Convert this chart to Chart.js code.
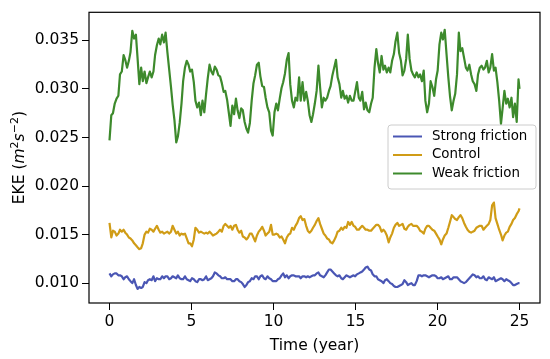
<!DOCTYPE html>
<html>
<head>
<meta charset="utf-8">
<script src="https://cdn.jsdelivr.net/npm/chart.js@4.4.0/dist/chart.umd.min.js"></script>
<style>
  html, body { margin: 0; padding: 0; background: #fff; }
  #wrap { width: 550px; height: 359px; }
</style>
</head>
<body>
<div id="wrap"><canvas id="chart" width="550" height="359"></canvas></div>
<script>
// sample times (year)
const years = [
  0.00, 0.11, 0.21, 0.32, 0.43, 0.54, 0.64, 0.75, 0.86, 0.96,
  1.07, 1.18, 1.28, 1.39, 1.50, 1.61, 1.71, 1.82, 1.93, 2.03,
  2.14, 2.25, 2.35, 2.46, 2.57, 2.68, 2.78, 2.89, 3.00, 3.10,
  3.21, 3.32, 3.42, 3.53, 3.64, 3.75, 3.85, 3.96, 4.07, 4.17,
  4.28, 4.39, 4.49, 4.60, 4.71, 4.82, 4.92, 5.03, 5.14, 5.24,
  5.35, 5.46, 5.57, 5.67, 5.78, 5.89, 5.99, 6.10, 6.21, 6.31,
  6.42, 6.53, 6.64, 6.74, 6.85, 6.96, 7.06, 7.17, 7.28, 7.38,
  7.49, 7.60, 7.71, 7.81, 7.92, 8.03, 8.13, 8.24, 8.35, 8.45,
  8.56, 8.67, 8.78, 8.88, 8.99, 9.10, 9.20, 9.31, 9.42, 9.52,
  9.63, 9.74, 9.85, 9.95, 10.06, 10.17, 10.27, 10.38, 10.49, 10.59,
  10.70, 10.81, 10.92, 11.02, 11.13, 11.24, 11.34, 11.45, 11.56, 11.66,
  11.77, 11.88, 11.99, 12.09, 12.20, 12.31, 12.41, 12.52, 12.63, 12.74,
  12.84, 12.95, 13.06, 13.16, 13.27, 13.38, 13.48, 13.59, 13.70, 13.81,
  13.91, 14.02, 14.13, 14.23, 14.34, 14.45, 14.55, 14.66, 14.77, 14.88,
  14.98, 15.09, 15.20, 15.30, 15.41, 15.52, 15.62, 15.73, 15.84, 15.95,
  16.05, 16.16, 16.27, 16.37, 16.48, 16.59, 16.70, 16.80, 16.91, 17.02,
  17.12, 17.23, 17.34, 17.44, 17.55, 17.66, 17.77, 17.87, 17.98, 18.09,
  18.19, 18.30, 18.41, 18.51, 18.62, 18.73, 18.84, 18.94, 19.05, 19.16,
  19.26, 19.37, 19.48, 19.58, 19.69, 19.80, 19.91, 20.01, 20.12, 20.23,
  20.33, 20.44, 20.55, 20.66, 20.76, 20.87, 20.98, 21.08, 21.19, 21.30,
  21.40, 21.51, 21.62, 21.73, 21.83, 21.94, 22.05, 22.15, 22.26, 22.37,
  22.47, 22.58, 22.69, 22.80, 22.90, 23.01, 23.12, 23.22, 23.33, 23.44,
  23.54, 23.65, 23.76, 23.87, 23.97, 24.08, 24.19, 24.29, 24.40, 24.51,
  24.61, 24.72, 24.83, 24.94, 25.00
];

const strongFriction = [
  0.0110, 0.0107, 0.0109, 0.0110, 0.0110, 0.0108, 0.0108, 0.0107, 0.0104, 0.0106,
  0.0107, 0.0104, 0.0102, 0.0100, 0.0104, 0.0098, 0.0094, 0.0096, 0.0095, 0.0096,
  0.0101, 0.0100, 0.0103, 0.0104, 0.0103, 0.0107, 0.0102, 0.0105, 0.0104, 0.0104,
  0.0107, 0.0105, 0.0107, 0.0107, 0.0104, 0.0105, 0.0107, 0.0106, 0.0105, 0.0108,
  0.0105, 0.0104, 0.0104, 0.0107, 0.0104, 0.0103, 0.0102, 0.0105, 0.0104, 0.0102,
  0.0101, 0.0104, 0.0104, 0.0103, 0.0104, 0.0107, 0.0103, 0.0104, 0.0105, 0.0107,
  0.0111, 0.0110, 0.0108, 0.0107, 0.0105, 0.0105, 0.0106, 0.0104, 0.0104, 0.0104,
  0.0102, 0.0102, 0.0104, 0.0104, 0.0102, 0.0101, 0.0099, 0.0096, 0.0098, 0.0101,
  0.0102, 0.0105, 0.0104, 0.0107, 0.0107, 0.0104, 0.0107, 0.0108, 0.0105, 0.0104,
  0.0107, 0.0105, 0.0104, 0.0102, 0.0102, 0.0102, 0.0104, 0.0105, 0.0108, 0.0110,
  0.0106, 0.0108, 0.0105, 0.0107, 0.0108, 0.0108, 0.0107, 0.0107, 0.0107, 0.0105,
  0.0107, 0.0107, 0.0106, 0.0107, 0.0106, 0.0107, 0.0108, 0.0108, 0.0110, 0.0111,
  0.0108, 0.0107, 0.0106, 0.0108, 0.0111, 0.0114, 0.0114, 0.0112, 0.0110, 0.0108,
  0.0107, 0.0108, 0.0105, 0.0104, 0.0106, 0.0108, 0.0107, 0.0106, 0.0107, 0.0108,
  0.0107, 0.0109, 0.0110, 0.0111, 0.0112, 0.0114, 0.0116, 0.0117, 0.0114, 0.0113,
  0.0109, 0.0107, 0.0107, 0.0104, 0.0103, 0.0102, 0.0100, 0.0103, 0.0104, 0.0102,
  0.0100, 0.0099, 0.0097, 0.0096, 0.0096, 0.0097, 0.0098, 0.0099, 0.0103, 0.0101,
  0.0098, 0.0099, 0.0100, 0.0098, 0.0098, 0.0102, 0.0108, 0.0108, 0.0107, 0.0108,
  0.0108, 0.0107, 0.0106, 0.0107, 0.0108, 0.0108, 0.0107, 0.0105, 0.0105, 0.0106,
  0.0104, 0.0105, 0.0106, 0.0107, 0.0104, 0.0104, 0.0106, 0.0106, 0.0106, 0.0104,
  0.0102, 0.0101, 0.0100, 0.0101, 0.0103, 0.0105, 0.0107, 0.0109, 0.0108, 0.0106,
  0.0107, 0.0105, 0.0105, 0.0107, 0.0104, 0.0103, 0.0106, 0.0105, 0.0104, 0.0106,
  0.0102, 0.0103, 0.0104, 0.0105, 0.0104, 0.0102, 0.0104, 0.0103, 0.0102, 0.0100,
  0.0098, 0.0098, 0.0099, 0.0100, 0.0100
];

const control = [
  0.0162, 0.0147, 0.0154, 0.0153, 0.0149, 0.0151, 0.0155, 0.0153, 0.0155, 0.0152,
  0.0150, 0.0147, 0.0146, 0.0144, 0.0141, 0.0139, 0.0137, 0.0135, 0.0136, 0.0141,
  0.0150, 0.0153, 0.0152, 0.0156, 0.0155, 0.0153, 0.0156, 0.0159, 0.0155, 0.0152,
  0.0153, 0.0151, 0.0152, 0.0153, 0.0151, 0.0153, 0.0159, 0.0155, 0.0151, 0.0153,
  0.0149, 0.0151, 0.0150, 0.0151, 0.0146, 0.0141, 0.0141, 0.0138, 0.0145, 0.0157,
  0.0155, 0.0152, 0.0153, 0.0152, 0.0151, 0.0152, 0.0151, 0.0153, 0.0151, 0.0149,
  0.0150, 0.0151, 0.0153, 0.0155, 0.0153, 0.0159, 0.0161, 0.0159, 0.0157, 0.0159,
  0.0155, 0.0159, 0.0160, 0.0155, 0.0152, 0.0154, 0.0148, 0.0147, 0.0145, 0.0147,
  0.0151, 0.0151, 0.0147, 0.0143, 0.0149, 0.0153, 0.0155, 0.0158, 0.0154, 0.0149,
  0.0151, 0.0153, 0.0160, 0.0150, 0.0150, 0.0151, 0.0150, 0.0147, 0.0148, 0.0145,
  0.0141, 0.0147, 0.0150, 0.0151, 0.0157, 0.0155, 0.0159, 0.0162, 0.0167, 0.0169,
  0.0165, 0.0166, 0.0159, 0.0154, 0.0152, 0.0154, 0.0157, 0.0160, 0.0164, 0.0167,
  0.0161, 0.0156, 0.0151, 0.0149, 0.0146, 0.0145, 0.0142, 0.0141, 0.0144, 0.0148,
  0.0153, 0.0154, 0.0157, 0.0155, 0.0158, 0.0157, 0.0163, 0.0160, 0.0163, 0.0159,
  0.0158, 0.0155, 0.0155, 0.0157, 0.0159, 0.0157, 0.0155, 0.0155, 0.0154, 0.0154,
  0.0156, 0.0158, 0.0160, 0.0160, 0.0158, 0.0153, 0.0155, 0.0153, 0.0149, 0.0142,
  0.0147, 0.0151, 0.0157, 0.0160, 0.0162, 0.0159, 0.0160, 0.0161, 0.0156, 0.0155,
  0.0158, 0.0160, 0.0161, 0.0159, 0.0159, 0.0159, 0.0157, 0.0154, 0.0153, 0.0151,
  0.0156, 0.0159, 0.0159, 0.0157, 0.0155, 0.0154, 0.0151, 0.0148, 0.0145, 0.0140,
  0.0145, 0.0149, 0.0151, 0.0157, 0.0163, 0.0170, 0.0168, 0.0166, 0.0165, 0.0168,
  0.0170, 0.0167, 0.0162, 0.0158, 0.0155, 0.0153, 0.0152, 0.0153, 0.0154, 0.0157,
  0.0158, 0.0159, 0.0159, 0.0155, 0.0157, 0.0159, 0.0161, 0.0165, 0.0180, 0.0183,
  0.0167, 0.0161, 0.0155, 0.0150, 0.0144, 0.0149, 0.0152, 0.0153, 0.0158, 0.0161,
  0.0165, 0.0167, 0.0171, 0.0174, 0.0177
];

const weakFriction = [
  0.0247, 0.0273, 0.0275, 0.0285, 0.0290, 0.0293, 0.0315, 0.0318, 0.0335, 0.0330,
  0.0322, 0.0329, 0.0338, 0.0360, 0.0352, 0.0356, 0.0332, 0.0305, 0.0322, 0.0308,
  0.0318, 0.0306, 0.0312, 0.0318, 0.0312, 0.0318, 0.0335, 0.0345, 0.0352, 0.0346,
  0.0356, 0.0348, 0.0358, 0.0338, 0.0320, 0.0302, 0.0284, 0.0268, 0.0245, 0.0251,
  0.0265, 0.0285, 0.0308, 0.0322, 0.0329, 0.0325, 0.0318, 0.0320, 0.0307, 0.0288,
  0.0281, 0.0286, 0.0273, 0.0288, 0.0276, 0.0295, 0.0311, 0.0325, 0.0318, 0.0315,
  0.0323, 0.0320, 0.0314, 0.0313, 0.0306, 0.0297, 0.0298, 0.0289, 0.0275, 0.0262,
  0.0283, 0.0274, 0.0290, 0.0278, 0.0270, 0.0280, 0.0278, 0.0266, 0.0259, 0.0255,
  0.0265, 0.0288, 0.0306, 0.0314, 0.0325, 0.0327, 0.0313, 0.0303, 0.0302, 0.0291,
  0.0281, 0.0276, 0.0257, 0.0252, 0.0276, 0.0285, 0.0278, 0.0290, 0.0301, 0.0307,
  0.0316, 0.0330, 0.0337,
  0.0305, 0.0288, 0.0281, 0.0291, 0.0288, 0.0312, 0.0288, 0.0307, 0.0288, 0.0297,
  0.0288, 0.0273, 0.0266, 0.0274, 0.0285, 0.0298, 0.0324, 0.0302, 0.0281, 0.0291,
  0.0288, 0.0291, 0.0298, 0.0303, 0.0314, 0.0322, 0.0330, 0.0312, 0.0305, 0.0291,
  0.0298, 0.0290, 0.0293, 0.0286, 0.0293, 0.0288, 0.0288, 0.0297, 0.0307, 0.0291,
  0.0288, 0.0297, 0.0279, 0.0286, 0.0278, 0.0276, 0.0285, 0.0291, 0.0322, 0.0341,
  0.0327, 0.0317, 0.0334, 0.0320, 0.0324, 0.0317, 0.0322, 0.0317, 0.0329, 0.0336,
  0.0349, 0.0358, 0.0337, 0.0329, 0.0314, 0.0319, 0.0331, 0.0356, 0.0331, 0.0319,
  0.0315, 0.0312, 0.0317, 0.0312, 0.0315, 0.0308, 0.0319, 0.0288, 0.0276, 0.0285,
  0.0308, 0.0302, 0.0293, 0.0310, 0.0319, 0.0346, 0.0358, 0.0351, 0.0361, 0.0336,
  0.0312, 0.0293, 0.0278, 0.0288, 0.0295, 0.0315, 0.0358, 0.0339, 0.0342, 0.0332,
  0.0322, 0.0319, 0.0325, 0.0315, 0.0308, 0.0305, 0.0298, 0.0315, 0.0322, 0.0324,
  0.0320, 0.0322, 0.0329, 0.0317, 0.0322, 0.0336, 0.0319, 0.0322, 0.0307, 0.0288,
  0.0264, 0.0280, 0.0298, 0.0285, 0.0290, 0.0281, 0.0291, 0.0271, 0.0285, 0.0266,
  0.0310, 0.0300
];

const seriesNames = ['Strong friction', 'Control', 'Weak friction'];
const seriesColors = ['#4a56b4', '#d09c16', '#3d8a2c'];
const xTicks = [0, 5, 10, 15, 20, 25];
const yTicks = [0.010, 0.015, 0.020, 0.025, 0.030, 0.035];

const FONT = "'DejaVu Sans', sans-serif";

function toPoints(values) {
    return values.map((v, i) => ({ x: years[i], y: v }));
}

// all four spines, drawn over the lines like matplotlib
const framePlugin = {
    id: 'frame',
    afterDatasetsDraw(chart) {
        const { ctx, chartArea: a } = chart;
        ctx.save();
        ctx.strokeStyle = '#000';
        ctx.lineWidth = 1.2;
        ctx.strokeRect(a.left, a.top, a.right - a.left, a.bottom - a.top);
        ctx.restore();
    }
};

// legend box inside the plot, upper right under the green line
const legendBoxPlugin = {
    id: 'legendBox',
    afterDraw(chart) {
        const ctx = chart.ctx;
        const x0 = 388, y0 = 125, w = 148, h = 64, r = 3;
        ctx.save();
        ctx.beginPath();
        ctx.moveTo(x0 + r, y0);
        ctx.arcTo(x0 + w, y0, x0 + w, y0 + h, r);
        ctx.arcTo(x0 + w, y0 + h, x0, y0 + h, r);
        ctx.arcTo(x0, y0 + h, x0, y0, r);
        ctx.arcTo(x0, y0, x0 + w, y0, r);
        ctx.closePath();
        ctx.fillStyle = 'rgba(255,255,255,0.8)';
        ctx.fill();
        ctx.strokeStyle = '#cccccc';
        ctx.lineWidth = 1;
        ctx.stroke();

        ctx.font = `13.4px ${FONT}`;
        ctx.textBaseline = 'middle';
        ctx.textAlign = 'left';
        chart.data.datasets.forEach((ds, i) => {
            const y = 136.5 + i * 18.5;
            ctx.strokeStyle = ds.borderColor;
            ctx.lineWidth = 2;
            ctx.beginPath();
            ctx.moveTo(393, y);
            ctx.lineTo(422, y);
            ctx.stroke();
            ctx.fillStyle = '#000';
            ctx.fillText(ds.label, 432, y);
        });
        ctx.restore();
    }
};

// y title with italic units and superscripts
const yTitlePlugin = {
    id: 'yTitle',
    afterDraw(chart) {
        const { ctx, chartArea } = chart;
        const big = 15.5, small = 11;
        const parts = [
            { t: 'EKE (', f: `${big}px ${FONT}`, dy: 0 },
            { t: 'm', f: `italic ${big}px ${FONT}`, dy: 0 },
            { t: '2', f: `${small}px ${FONT}`, dy: -6 },
            { t: 's', f: `italic ${big}px ${FONT}`, dy: 0 },
            { t: '\u22122', f: `${small}px ${FONT}`, dy: -6 },
            { t: ')', f: `${big}px ${FONT}`, dy: 0 }
        ];
        ctx.save();
        let total = 0;
        parts.forEach(p => { ctx.font = p.f; p.w = ctx.measureText(p.t).width; total += p.w; });
        ctx.translate(18, (chartArea.top + chartArea.bottom) / 2);
        ctx.rotate(-Math.PI / 2);
        ctx.fillStyle = '#000';
        ctx.textBaseline = 'alphabetic';
        ctx.textAlign = 'left';
        let x = -total / 2;
        parts.forEach(p => {
            ctx.font = p.f;
            ctx.fillText(p.t, x, 5.5 + p.dy);
            x += p.w;
        });
        ctx.restore();
    }
};

const seriesValues = [strongFriction, control, weakFriction];

new Chart(document.getElementById('chart').getContext('2d'), {
    type: 'line',
    data: {
        datasets: seriesValues.map((vals, i) => ({
            label: seriesNames[i],
            data: toPoints(vals),
            borderColor: seriesColors[i],
            backgroundColor: seriesColors[i],
            borderWidth: 2.2,
            pointRadius: 0,
            tension: 0,
            borderJoinStyle: 'round',
            fill: false
        }))
    },
    options: {
        responsive: false,
        animation: false,
        devicePixelRatio: 1,
        layout: { padding: { left: 0, right: 10, top: 11, bottom: 0 } },
        plugins: {
            legend: { display: false },
            tooltip: { enabled: false }
        },
        scales: {
            x: {
                type: 'linear',
                min: -1.25,
                max: 26.25,
                afterBuildTicks: s => { s.ticks = xTicks.map(v => ({ value: v })); },
                afterFit: s => { s.height = 56; },
                ticks: {
                    color: '#000',
                    font: { family: FONT, size: 15.5 },
                    padding: 3,
                    maxRotation: 0,
                    callback: v => String(v)
                },
                grid: { drawOnChartArea: false, drawTicks: true, tickLength: 7, color: '#000', lineWidth: 1 },
                border: { display: false },
                title: {
                    display: true,
                    text: 'Time (year)',
                    color: '#000',
                    font: { family: FONT, size: 15.5 },
                    padding: { top: 0, bottom: 4 }
                }
            },
            y: {
                type: 'linear',
                min: 0.00795,
                max: 0.0379,
                afterBuildTicks: s => { s.ticks = yTicks.map(v => ({ value: v })); },
                afterFit: s => { s.width = 89; },
                ticks: {
                    color: '#000',
                    font: { family: FONT, size: 15.5 },
                    padding: 3,
                    callback: v => v.toFixed(3)
                },
                grid: { drawOnChartArea: false, drawTicks: true, tickLength: 7, color: '#000', lineWidth: 1 },
                border: { display: false }
            }
        }
    },
    plugins: [framePlugin, legendBoxPlugin, yTitlePlugin]
});
</script>
</body>
</html>
